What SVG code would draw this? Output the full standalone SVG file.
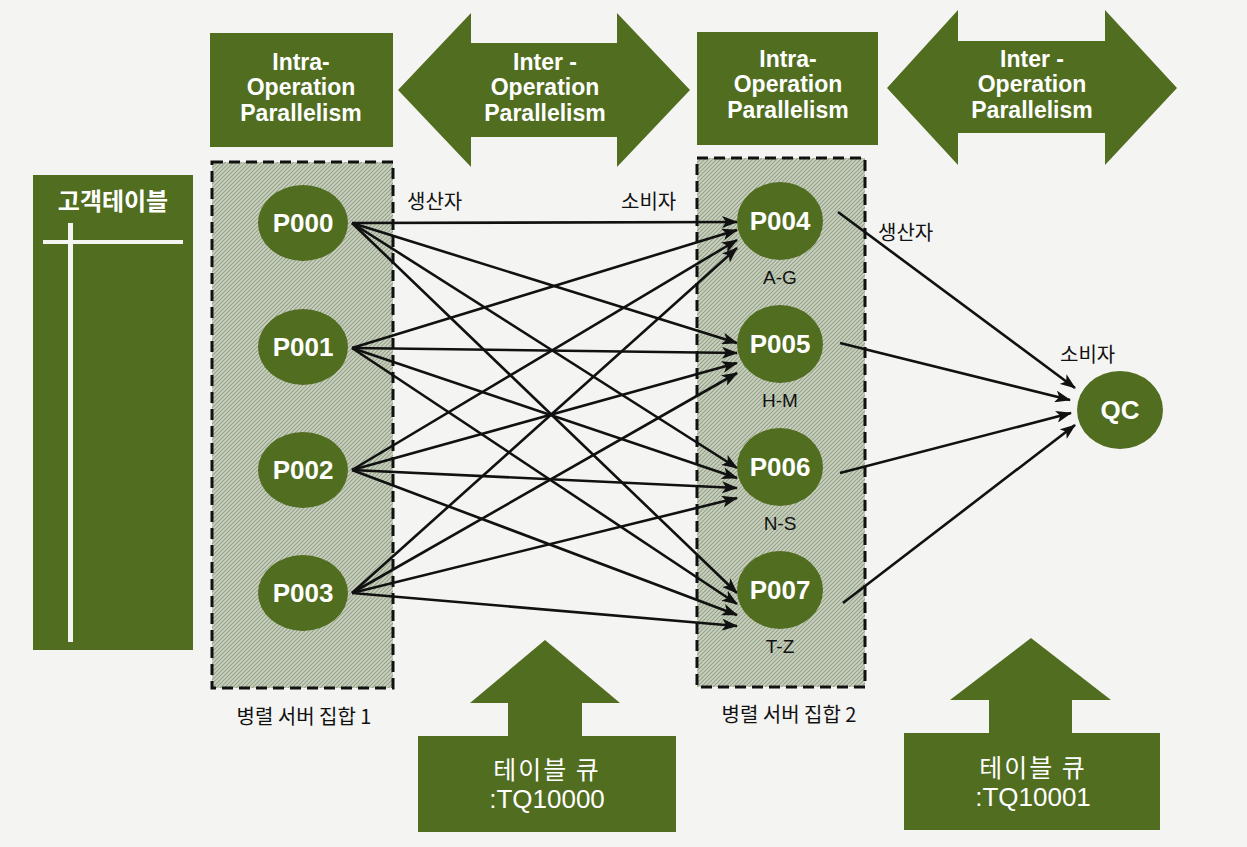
<svg xmlns="http://www.w3.org/2000/svg" width="1247" height="847" viewBox="0 0 1247 847">
<defs>
<style>
.g{fill:#516d20}
.t{font-family:"Liberation Sans",Arial,sans-serif;font-weight:bold;fill:#ffffff;text-anchor:middle}
.top{font-size:23px}
.pn{font-size:26px}
.kw{font-family:"Noto Sans CJK KR",sans-serif;fill:#ffffff;text-anchor:middle}
.lab{font-family:"Noto Sans CJK KR",sans-serif;font-size:20px;fill:#111111}
.rng{font-family:"Liberation Sans",Arial,sans-serif;font-size:19px;fill:#111111;text-anchor:middle}
.box{fill:url(#hatch);stroke:#111111;stroke-width:3;stroke-dasharray:11 6}
.c line{stroke:#111111;stroke-width:2.6;marker-end:url(#ah)}
</style>
<pattern id="hatch" width="4" height="4" patternUnits="userSpaceOnUse">
<rect width="4" height="4" fill="#cbd2c0"/>
<path d="M-1,1 l2,-2 M0,4 l4,-4 M3,5 l2,-2" stroke="#95a28a" stroke-width="1.2"/>
</pattern>
<marker id="ah" markerUnits="userSpaceOnUse" markerWidth="16" markerHeight="12" refX="15" refY="6" orient="auto">
<path d="M0,0 L16,6 L0,12 L4,6 z" fill="#111111"/>
</marker>
</defs>
<rect width="1247" height="847" fill="#f4f4f2"/>

<g id="intra1">
<rect class="g" x="210" y="33" width="183" height="114"/>
<text class="t top" x="301" y="70">Intra-</text>
<text class="t top" x="301" y="95">Operation</text>
<text class="t top" x="301" y="121">Parallelism</text>
</g>
<g id="inter1">
<path class="g" d="M398,90 L471,13 L471,43 L617,43 L617,13 L690,90 L617,167 L617,137 L471,137 L471,167 Z"/>
<text class="t top" x="545" y="70">Inter -</text>
<text class="t top" x="545" y="95">Operation</text>
<text class="t top" x="545" y="121">Parallelism</text>
</g>
<g id="intra2">
<rect class="g" x="697" y="32" width="181" height="113"/>
<text class="t top" x="788" y="67">Intra-</text>
<text class="t top" x="788" y="92">Operation</text>
<text class="t top" x="788" y="118">Parallelism</text>
</g>
<g id="inter2">
<path class="g" d="M887,88 L958,10 L958,41 L1105,41 L1105,10 L1177,88 L1105,165 L1105,133 L958,133 L958,165 Z"/>
<text class="t top" x="1032" y="67">Inter -</text>
<text class="t top" x="1032" y="92">Operation</text>
<text class="t top" x="1032" y="118">Parallelism</text>
</g>

<g id="customer-table">
<rect class="g" x="33" y="175" width="160" height="475"/>
<text class="kw" x="113" y="210" font-size="24" font-weight="bold">고객테이블</text>
<rect x="43" y="240" width="140" height="4" fill="#f4f4f2"/>
<rect x="68" y="223" width="5" height="419" fill="#f4f4f2"/>
</g>

<g id="server-set-1">
<rect class="box" x="212" y="162" width="181" height="526"/>
<text class="lab" x="304" y="724" text-anchor="middle">병렬 서버 집합 1</text>
</g>
<g id="server-set-2">
<rect class="box" x="697" y="158" width="168" height="529"/>
<text class="lab" x="789" y="722" text-anchor="middle">병렬 서버 집합 2</text>
</g>

<g class="c" id="connectors">
<line x1="352" y1="223" x2="737" y2="222"/>
<line x1="352" y1="348" x2="737" y2="230"/>
<line x1="352" y1="470" x2="737" y2="240"/>
<line x1="352" y1="593" x2="737" y2="248"/>
<line x1="352" y1="223" x2="737" y2="343"/>
<line x1="352" y1="348" x2="737" y2="353"/>
<line x1="352" y1="470" x2="737" y2="363"/>
<line x1="352" y1="593" x2="737" y2="373"/>
<line x1="352" y1="223" x2="737" y2="468"/>
<line x1="352" y1="348" x2="737" y2="478"/>
<line x1="352" y1="470" x2="737" y2="488"/>
<line x1="352" y1="593" x2="737" y2="498"/>
<line x1="352" y1="223" x2="737" y2="593"/>
<line x1="352" y1="348" x2="737" y2="604"/>
<line x1="352" y1="470" x2="737" y2="615"/>
<line x1="352" y1="593" x2="737" y2="626"/>
<line x1="838" y1="212" x2="1075" y2="388"/>
<line x1="840" y1="343" x2="1070" y2="400"/>
<line x1="840" y1="473" x2="1071" y2="413"/>
<line x1="843" y1="603" x2="1075" y2="425"/>
</g>

<g id="labels">
<text class="lab" x="407" y="209">생산자</text>
<text class="lab" x="621" y="209">소비자</text>
<text class="lab" x="878" y="240">생산자</text>
<text class="lab" x="1060" y="362">소비자</text>
</g>

<g id="P000"><ellipse class="g" cx="303" cy="223" rx="45" ry="38"/><text class="t pn" x="303" y="232">P000</text></g>
<g id="P001"><ellipse class="g" cx="303" cy="347" rx="45" ry="38"/><text class="t pn" x="303" y="356">P001</text></g>
<g id="P002"><ellipse class="g" cx="303" cy="470" rx="45" ry="38"/><text class="t pn" x="303" y="479">P002</text></g>
<g id="P003"><ellipse class="g" cx="303" cy="593" rx="45" ry="38"/><text class="t pn" x="303" y="602">P003</text></g>

<g id="P004"><ellipse class="g" cx="780" cy="221" rx="43" ry="39"/><text class="t pn" x="780" y="230">P004</text><text class="rng" x="780" y="284">A-G</text></g>
<g id="P005"><ellipse class="g" cx="780" cy="344" rx="43" ry="39"/><text class="t pn" x="780" y="353">P005</text><text class="rng" x="780" y="407">H-M</text></g>
<g id="P006"><ellipse class="g" cx="780" cy="467" rx="43" ry="39"/><text class="t pn" x="780" y="476">P006</text><text class="rng" x="780" y="530">N-S</text></g>
<g id="P007"><ellipse class="g" cx="780" cy="590" rx="43" ry="39"/><text class="t pn" x="780" y="599">P007</text><text class="rng" x="780" y="653">T-Z</text></g>

<g id="QC"><ellipse class="g" cx="1120" cy="410" rx="43" ry="39"/><text class="t pn" x="1120" y="419">QC</text></g>

<g id="tq10000">
<path class="g" d="M545,640 L620,703 L582,703 L582,736 L676,736 L676,832 L418,832 L418,736 L508,736 L508,703 L470,703 Z"/>
<text class="kw" x="547" y="779" font-size="25" letter-spacing="2">테이블 큐</text>
<text x="547" y="808" font-family="Liberation Sans,Arial,sans-serif" font-size="26" fill="#ffffff" text-anchor="middle">:TQ10000</text>
</g>
<g id="tq10001">
<path class="g" d="M1031,638 L1111,700 L1072,700 L1072,733 L1160,733 L1160,830 L904,830 L904,733 L989,733 L989,700 L950,700 Z"/>
<text class="kw" x="1033" y="777" font-size="25" letter-spacing="2">테이블 큐</text>
<text x="1033" y="806" font-family="Liberation Sans,Arial,sans-serif" font-size="26" fill="#ffffff" text-anchor="middle">:TQ10001</text>
</g>
</svg>
